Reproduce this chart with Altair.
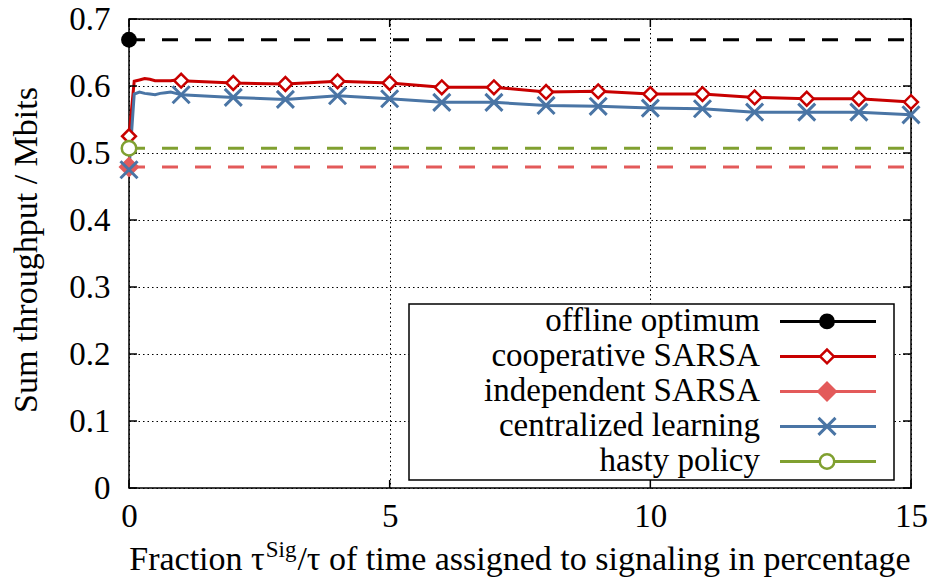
import altair as alt
import pandas as pd

# ---- data -------------------------------------------------------------
x_fine = [0, 0.1, 0.2, 0.3, 0.4, 0.5, 0.6, 0.7, 0.8, 0.9,
          1, 2, 3, 4, 5, 6, 7, 8, 9, 10, 11, 12, 13, 14, 15]
coop_sarsa = [0.525, 0.607, 0.609, 0.611, 0.610, 0.608, 0.608, 0.608, 0.608, 0.609,
              0.608, 0.6045, 0.603, 0.607, 0.6045, 0.598, 0.598, 0.591, 0.592,
              0.588, 0.588, 0.583, 0.581, 0.581, 0.576]
central_learning = [0.475, 0.588, 0.591, 0.589, 0.588, 0.587, 0.589, 0.590, 0.591, 0.589,
                    0.587, 0.583, 0.580, 0.5855, 0.581, 0.5756, 0.5756, 0.571, 0.5697,
                    0.567, 0.566, 0.561, 0.561, 0.561, 0.557]
offline_optimum = 0.669
independent_sarsa = 0.479
hasty_policy = 0.507
x_span = [0, 15]

x_ticks = [0, 5, 10, 15]
y_ticks = [0, 0.1, 0.2, 0.3, 0.4, 0.5, 0.6, 0.7]

names = ["offline optimum", "cooperative SARSA", "independent SARSA",
         "centralized learning", "hasty policy"]
colors = ["#000000", "#c80000", "#e35a5a", "#4a75a5", "#80a030"]

# ---- layout / style ---------------------------------------------------
W, H = 782, 469
FONT = "Liberation Serif"
FS = 33
TFS = 34
col = dict(zip(names, colors))

xs = alt.Scale(domain=[0, 15], nice=False, zero=False, padding=0)
ys = alt.Scale(domain=[0, 0.7], nice=False, zero=False, padding=0)

grid_style = dict(grid=True, gridDash=[1.5, 3], gridColor="black", gridWidth=1,
                  gridOpacity=1, domain=False, ticks=False, tickSize=0, labelFlush=False,
                  labelFont=FONT, labelFontSize=FS, labelColor="black", title=None)
x_axis = alt.Axis(values=x_ticks, format="d", labelBaseline="alphabetic",
                  labelPadding=38, **grid_style)
y_axis = alt.Axis(values=y_ticks, format="~g", labelPadding=19, **grid_style)


def X(field):
    return alt.X(field, type="quantitative", scale=xs, axis=x_axis)


def Y(field):
    return alt.Y(field, type="quantitative", scale=ys, axis=y_axis)


X_PATH = "M-1,-1L1,1M-1,1L1,-1"
marker = {
    "offline optimum": dict(shape="circle", filled=True, fill=col["offline optimum"],
                            strokeWidth=0, size=250),
    "cooperative SARSA": dict(shape="diamond", filled=True, fill="white",
                              stroke=col["cooperative SARSA"], strokeWidth=2.5, size=190),
    "independent SARSA": dict(shape="diamond", filled=True, fill=col["independent SARSA"],
                              strokeWidth=0, size=440),
    "centralized learning": dict(shape=X_PATH, filled=False,
                                 stroke=col["centralized learning"], strokeWidth=3, size=290),
    "hasty policy": dict(shape="circle", filled=True, fill="white",
                         stroke=col["hasty policy"], strokeWidth=2.5, size=210),
}

# ---- tables -----------------------------------------------------------
curves = pd.concat([
    pd.DataFrame({"x": x_fine, "y": coop_sarsa, "series": "cooperative SARSA"}),
    pd.DataFrame({"x": x_fine, "y": central_learning, "series": "centralized learning"}),
])
constants = pd.DataFrame({
    "series": ["offline optimum", "independent SARSA", "hasty policy"],
    "y": [offline_optimum, independent_sarsa, hasty_policy],
    "x0": [x_span[0]] * 3,
    "x1": [x_span[1]] * 3,
})
ytick_df = pd.DataFrame({"v": y_ticks})
xtick_df = pd.DataFrame({"v": x_ticks})

# ---- main plot layers -------------------------------------------------
layers = []

for name in ["offline optimum", "independent SARSA", "hasty policy"]:
    layers.append(
        alt.Chart(constants).transform_filter(alt.datum.series == name)
        .mark_rule(color=col[name], strokeWidth=3, strokeDash=[16, 17])
        .encode(x=X("x0"), x2="x1", y=Y("y"))
    )

for name in ["cooperative SARSA", "centralized learning"]:
    layers.append(
        alt.Chart(curves).transform_filter(alt.datum.series == name)
        .mark_line(color=col[name], strokeWidth=3)
        .encode(x=X("x"), y=Y("y"), order="x:Q")
    )

# inward ticks on all four sides
tick_rule = dict(color="black", strokeWidth=1.5)
layers += [
    alt.Chart(ytick_df).mark_rule(**tick_rule).encode(y=Y("v"), x=alt.value(0), x2=alt.value(8)),
    alt.Chart(ytick_df).mark_rule(**tick_rule).encode(y=Y("v"), x=alt.value(W - 8), x2=alt.value(W)),
    alt.Chart(xtick_df).mark_rule(**tick_rule).encode(x=X("v"), y=alt.value(H - 8), y2=alt.value(H)),
    alt.Chart(xtick_df).mark_rule(**tick_rule).encode(x=X("v"), y=alt.value(0), y2=alt.value(8)),
]

# markers
for name in names:
    if name in ("cooperative SARSA", "centralized learning"):
        src = (alt.Chart(curves).transform_filter(alt.datum.series == name)
               .transform_filter("datum.x == floor(datum.x)"))
        enc = dict(x=X("x"), y=Y("y"))
    else:
        src = alt.Chart(constants).transform_filter(alt.datum.series == name)
        enc = dict(x=X("x0"), y=Y("y"))
    layers.append(src.mark_point(opacity=1, **marker[name]).encode(**enc))

# axis titles (x title built from pieces so "Sig" can sit raised)
one = pd.DataFrame({"k": [0]})
txt = dict(font=FONT, color="black")
layers += [
    alt.Chart(one).mark_text(angle=270, align="center", baseline="middle",
                             fontSize=TFS, **txt)
    .encode(x=alt.value(-102), y=alt.value(231), text=alt.value("Sum throughput / Mbits")),
    alt.Chart(one).mark_text(align="right", baseline="alphabetic", fontSize=TFS, **txt)
    .encode(x=alt.value(135.7), y=alt.value(551), text=alt.value("Fraction τ")),
    alt.Chart(one).mark_text(align="left", baseline="alphabetic", fontSize=23, **txt)
    .encode(x=alt.value(136.7), y=alt.value(538), text=alt.value("Sig")),
    alt.Chart(one).mark_text(align="left", baseline="alphabetic", fontSize=TFS, **txt)
    .encode(x=alt.value(168.4), y=alt.value(551),
            text=alt.value("/τ of time assigned to signaling in percentage")),
]

main = alt.layer(*layers)

# ---- legend box --------------------------------------------------------
leg_df = pd.DataFrame({"series": names})
leg_y = alt.Y("series:N", scale=alt.Scale(type="point", domain=names,
                                          range=[302.4, 442.4], padding=0), axis=None)

leg_layers = [
    alt.Chart(one).mark_rect(fill="white", stroke="black", strokeWidth=1.5)
    .encode(x=alt.value(280), x2=alt.value(765), y=alt.value(285), y2=alt.value(461)),
    alt.Chart(leg_df).mark_rule(strokeWidth=3)
    .encode(x=alt.value(651), x2=alt.value(747), y=leg_y,
            color=alt.Color("series:N", scale=alt.Scale(domain=names, range=colors),
                            legend=None)),
    alt.Chart(leg_df).mark_text(align="right", baseline="middle", fontSize=FS, **txt)
    .encode(x=alt.value(631), y=leg_y, text="series:N"),
]
for name in names:
    leg_layers.append(
        alt.Chart(leg_df).transform_filter(alt.datum.series == name)
        .mark_point(opacity=1, **marker[name])
        .encode(x=alt.value(698), y=leg_y)
    )
legend = alt.layer(*leg_layers)

chart = (
    alt.layer(main, legend)
    .resolve_scale(y="independent")
    .properties(width=W, height=H,
                padding={"left": 129, "top": 19, "right": 19, "bottom": 94},
                autosize=alt.AutoSizeParams(type="none"),
                background="white")
    .configure_view(stroke="black", strokeWidth=1.5)
)

chart.save("out.html", embed_options={"renderer": "svg", "actions": False})
